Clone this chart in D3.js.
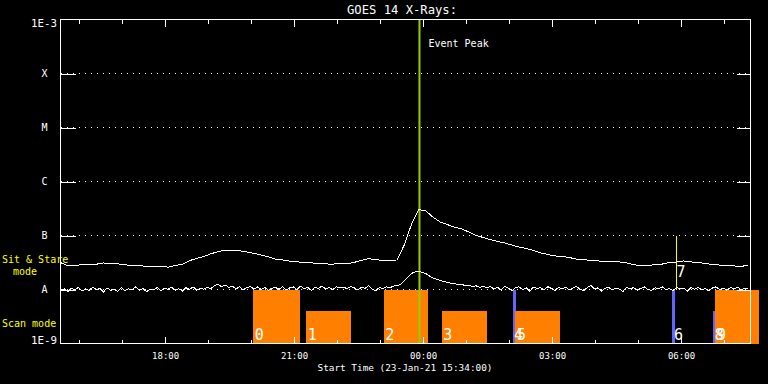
<!DOCTYPE html>
<html>
<head>
<meta charset="utf-8">
<script src="https://cdn.jsdelivr.net/npm/d3@7"></script>
<style>
body { margin: 0; background: #000; }
svg { display: block; }
text { font-family: "DejaVu Sans Mono", monospace; fill: #fff; }
</style>
</head>
<body>
<script>
// time range of the plot
var startTime = "2021-01-23T15:34:00Z",
    endTime = "2021-01-24T07:37:00Z",
    peakTime = "2021-01-23T23:55:00Z";

// GOES 1-8 A flux, nW/m2, one value every 10 min from startTime
var longStep = 10;
var longFlux = [
    31.5, 27.6, 28.1, 28.6, 29.2, 29.4, 31.0, 30.1, 29.8, 28.7,
    27.6, 28.0, 26.6, 26.3, 26.9, 25.9, 27.9, 29.4, 34.2, 37.6,
    40.6, 45.9, 50.2, 53.4, 52.8, 52.3, 49.6, 46.7, 43.3, 40.2,
    36.4, 35.3, 33.6, 32.6, 31.4, 31.2, 30.1, 29.8, 29.4, 30.5,
    30.0, 31.8, 34.6, 37.2, 35.7, 34.6, 34.1, 35.3, 68, 163,
    303, 284, 218, 178, 159, 143, 132, 116, 100, 91.8,
    84, 77.4, 72.6, 66.5, 61.3, 57.5, 53, 47.5, 44.6, 41.8,
    40.9, 39.1, 36.6, 35.9, 34.4, 33.8, 33, 32.4, 32.4, 31,
    29, 27.3, 27.8, 29, 29.6, 31.6, 32.4, 33.8, 32.4, 31.6,
    30.3, 29, 28.4, 27.8, 27.3, 26.7, 28.4
];

// GOES 0.5-4 A flux, nW/m2, one value every 5 min from startTime
var shortStep = 5;
var shortFlux = [
    9.4, 10.3, 9.1, 10.6, 9.8, 10.9, 9.3, 10.2, 9.6, 11.1, 9.9, 10.4, 9.0, 10.7, 9.7, 10.1, 9.2, 10.8, 9.5, 10.3,
    9.8, 11.3, 9.6, 10.5, 9.1, 10.2, 9.9, 10.9, 9.4, 10.6, 10.1, 11.0, 9.7, 10.4, 9.3, 10.8, 10.0, 11.2, 9.8, 10.5,
    10.1, 11.0, 10.4, 11.8, 12.4, 11.2, 12.1, 10.9, 11.5, 10.3, 11.2, 9.9, 10.8, 11.4, 10.2, 11.1, 10.0, 10.9, 9.7, 10.6,
    10.9, 10.1, 11.3, 9.8, 10.7, 11.2, 10.0, 11.5, 10.4, 10.9, 9.6, 11.0, 10.5, 11.6, 10.2, 10.8, 9.9, 11.3, 10.6, 11.1,
    10.3, 11.4, 10.7, 9.8, 11.0, 10.5, 11.7, 10.2, 9.5, 10.9, 10.4, 11.2, 10.8, 11.6,
    11.8, 12.6, 14.5, 17.0, 19.8, 21.3, 21.6, 20.8, 19.6, 17.8, 16.3, 15.4, 14.7, 14.1, 13.5, 13.1, 12.9, 12.3, 12.4, 11.8,
    12.0, 11.4, 11.7, 10.9, 11.5, 10.8,
    11.3, 10.2, 11.0, 9.7, 11.4, 10.6, 9.4, 10.9, 11.2, 10.0, 10.7, 9.3, 11.1, 10.4, 10.8, 9.8, 11.3, 10.5, 9.6, 10.9,
    10.2, 11.0, 9.9, 10.6, 11.4, 10.1, 9.5, 10.8, 11.9, 10.3, 10.7, 9.4, 10.5, 11.0, 9.8, 10.6, 10.2, 9.2, 10.9, 10.4,
    10.8, 9.7, 10.5, 11.1, 10.0, 9.6, 10.7, 10.3, 11.2, 9.9, 10.4, 9.5, 10.9, 10.2, 10.6, 9.3, 10.8, 10.1, 11.0, 9.8,
    10.5, 9.4, 10.7, 11.2, 10.0, 10.6, 9.7, 10.9, 10.3, 11.1, 9.9, 10.6, 10.4
];

// flare classes
var classLevels = [1e-8, 1e-7, 1e-6, 1e-5, 1e-4];
var classNames = ["A", "B", "C", "M", "X"];

// observations
var obsLabels = ["0", "1", "2", "3", "4", "5", "6", "7", "8", "9"];
var obsStart = ["2021-01-23T20:03Z", "2021-01-23T21:17Z", "2021-01-23T23:05Z", "2021-01-24T00:26Z", "2021-01-24T02:05Z",
                "2021-01-24T02:09Z", "2021-01-24T05:48Z", "2021-01-24T05:52:30Z", "2021-01-24T06:45Z", "2021-01-24T06:48Z"];
var obsEnd = ["2021-01-23T21:08Z", "2021-01-23T22:20Z", "2021-01-24T00:07Z", "2021-01-24T01:29Z", "2021-01-24T02:09Z",
              "2021-01-24T03:12Z", "2021-01-24T05:52Z", "2021-01-24T05:52:30Z", "2021-01-24T06:48Z", "2021-01-24T07:50Z"];
var obsMode = ["sit", "scan", "sit", "scan", "sit", "scan", "sit", "line", "scan", "sit"];
var obsInst = ["a", "a", "a", "a", "b", "a", "b", "c", "b", "a"];

var nW = 1e-9;
var modeTop = {sit: 1e-8, scan: 4e-9};
var instColor = {a: "#ff8000", b: "#6464ff", c: "#ffff00"};

// plot box (window.top is read-only, so no bare "top")
var pLeft = 60.5, pRight = 750.5, pTop = 19.5, pBottom = 343.5;

var t0 = d3.isoParse(startTime);

var svg = d3.select("body").append("svg")
    .attr("width", 768)
    .attr("height", 384);

svg.append("rect").attr("width", 768).attr("height", 384).attr("fill", "#000");

var x = d3.scaleUtc()
    .domain([t0, d3.isoParse(endTime)])
    .range([pLeft, pRight]);

var y = d3.scaleLog()
    .domain([1e-9, 1e-3])
    .range([pBottom, pTop]);

// dotted class lines
svg.append("g").selectAll("line")
    .data(classLevels)
    .enter().append("line")
    .attr("x1", pLeft).attr("x2", pRight)
    .attr("y1", function(d) { return y(d); })
    .attr("y2", function(d) { return y(d); })
    .attr("stroke", "#fff")
    .attr("stroke-dasharray", "1,5")
    .attr("shape-rendering", "crispEdges");

// observation bars
var obs = obsLabels.map(function(l, i) {
    return {label: l, t1: d3.isoParse(obsStart[i]), t2: d3.isoParse(obsEnd[i]), mode: obsMode[i], inst: obsInst[i]};
});

svg.append("g").selectAll("rect")
    .data(obs.filter(function(d) { return d.mode != "line"; }))
    .enter().append("rect")
    .attr("x", function(d) { return Math.round(x(d.t1)); })
    .attr("width", function(d) { return Math.max(2, Math.round(x(d.t2) - x(d.t1))); })
    .attr("y", function(d) { return Math.round(y(modeTop[d.mode])); })
    .attr("height", function(d) { return Math.round(pBottom) - Math.round(y(modeTop[d.mode])); })
    .attr("fill", function(d) { return instColor[d.inst]; })
    .attr("shape-rendering", "crispEdges");

svg.append("g").selectAll("line")
    .data(obs.filter(function(d) { return d.mode == "line"; }))
    .enter().append("line")
    .attr("x1", function(d) { return Math.round(x(d.t1)) + 0.5; })
    .attr("x2", function(d) { return Math.round(x(d.t1)) + 0.5; })
    .attr("y1", y(1e-8)).attr("y2", y(1e-7))
    .attr("stroke", function(d) { return instColor[d.inst]; })
    .attr("shape-rendering", "crispEdges");

// event peak
svg.append("line")
    .attr("x1", x(d3.isoParse(peakTime))).attr("x2", x(d3.isoParse(peakTime)))
    .attr("y1", pTop).attr("y2", pBottom)
    .attr("stroke", "#99cc00")
    .attr("stroke-width", 2);

svg.append("text")
    .attr("x", x(d3.isoParse(peakTime)) + 9)
    .attr("y", 46.5)
    .attr("font-size", 10)
    .text("Event Peak");

// flux curves
svg.append("clipPath").attr("id", "plot")
    .append("rect").attr("x", pLeft).attr("y", pTop).attr("width", pRight - pLeft).attr("height", pBottom - pTop);

function fluxLine(step) {
    return d3.line()
        .x(function(d, i) { return x(new Date(t0.getTime() + i * step * 60000)); })
        .y(function(d) { return y(d * nW); });
}

svg.append("path")
    .attr("d", fluxLine(longStep)(longFlux))
    .attr("clip-path", "url(#plot)")
    .attr("fill", "none")
    .attr("stroke", "#fff")
    .attr("stroke-width", 1)
    .attr("shape-rendering", "crispEdges");

svg.append("path")
    .attr("d", fluxLine(shortStep)(shortFlux))
    .attr("clip-path", "url(#plot)")
    .attr("fill", "none")
    .attr("stroke", "#fff")
    .attr("stroke-width", 1)
    .attr("shape-rendering", "crispEdges");

// observation numbers
svg.append("g").selectAll("text")
    .data(obs)
    .enter().append("text")
    .attr("x", function(d) { return x(d.t1) + (d.mode == "line" ? 1 : 1.5); })
    .attr("y", function(d) { return d.mode == "line" ? 277 : 339.5; })
    .attr("font-size", 15)
    .text(function(d) { return d.label; });

// axes
function styleAxis(g) {
    g.select(".domain").remove();
    g.selectAll("line").attr("stroke", "#fff").attr("shape-rendering", "crispEdges");
    g.selectAll("text").attr("fill", "#fff").attr("font-family", "DejaVu Sans Mono");
    g.attr("font-family", null);
}

svg.append("g")
    .attr("transform", "translate(0," + pBottom + ")")
    .call(d3.axisBottom(x).ticks(d3.utcHour.every(1)).tickSize(-4).tickFormat(""))
    .call(styleAxis);

svg.append("g")
    .attr("transform", "translate(0," + pBottom + ")")
    .call(d3.axisBottom(x).ticks(d3.utcHour.every(3)).tickSize(-7).tickPadding(9).tickFormat(d3.utcFormat("%H:%M")))
    .attr("font-size", 9)
    .call(styleAxis);

svg.append("g")
    .attr("transform", "translate(0," + pTop + ")")
    .call(d3.axisTop(x).ticks(d3.utcHour.every(1)).tickSize(-4).tickFormat(""))
    .call(styleAxis);

svg.append("g")
    .attr("transform", "translate(0," + pTop + ")")
    .call(d3.axisTop(x).ticks(d3.utcHour.every(3)).tickSize(-7).tickFormat(""))
    .call(styleAxis);

svg.append("g")
    .attr("transform", "translate(" + pLeft + ",0)")
    .call(d3.axisLeft(y).tickValues(classLevels).tickSize(-15).tickPadding(13)
        .tickFormat(function(d, i) { return classNames[i]; }))
    .attr("font-size", 10)
    .call(styleAxis);

svg.append("g")
    .attr("transform", "translate(" + pRight + ",0)")
    .call(d3.axisRight(y).tickValues(classLevels).tickSize(-14).tickFormat(""))
    .call(styleAxis);

svg.append("rect")
    .attr("x", pLeft).attr("y", pTop)
    .attr("width", pRight - pLeft).attr("height", pBottom - pTop)
    .attr("fill", "none")
    .attr("stroke", "#fff")
    .attr("shape-rendering", "crispEdges");

// range labels
svg.append("text").attr("x", 57).attr("y", 27).attr("font-size", 10.8).attr("text-anchor", "end").text("1E-3");
svg.append("text").attr("x", 57).attr("y", 344).attr("font-size", 10.8).attr("text-anchor", "end").text("1E-9");

// titles
svg.append("text")
    .attr("x", 402).attr("y", 14)
    .attr("font-size", 12.2)
    .attr("text-anchor", "middle")
    .text("GOES 14 X-Rays:");

svg.append("text")
    .attr("x", 405).attr("y", 371)
    .attr("font-size", 9.4)
    .attr("text-anchor", "middle")
    .text("Start Time (" + d3.utcFormat("%d-%b-%y %H:%M:%S")(t0) + ")");

// mode labels
svg.append("text").attr("x", 2).attr("y", 262.5).attr("font-size", 10).style("fill", "#ffff00").text("Sit & Stare");
svg.append("text").attr("x", 13).attr("y", 275).attr("font-size", 10).style("fill", "#ffff00").text("mode");
svg.append("text").attr("x", 2).attr("y", 327).attr("font-size", 10).style("fill", "#ffff00").text("Scan mode");
</script>
</body>
</html>
